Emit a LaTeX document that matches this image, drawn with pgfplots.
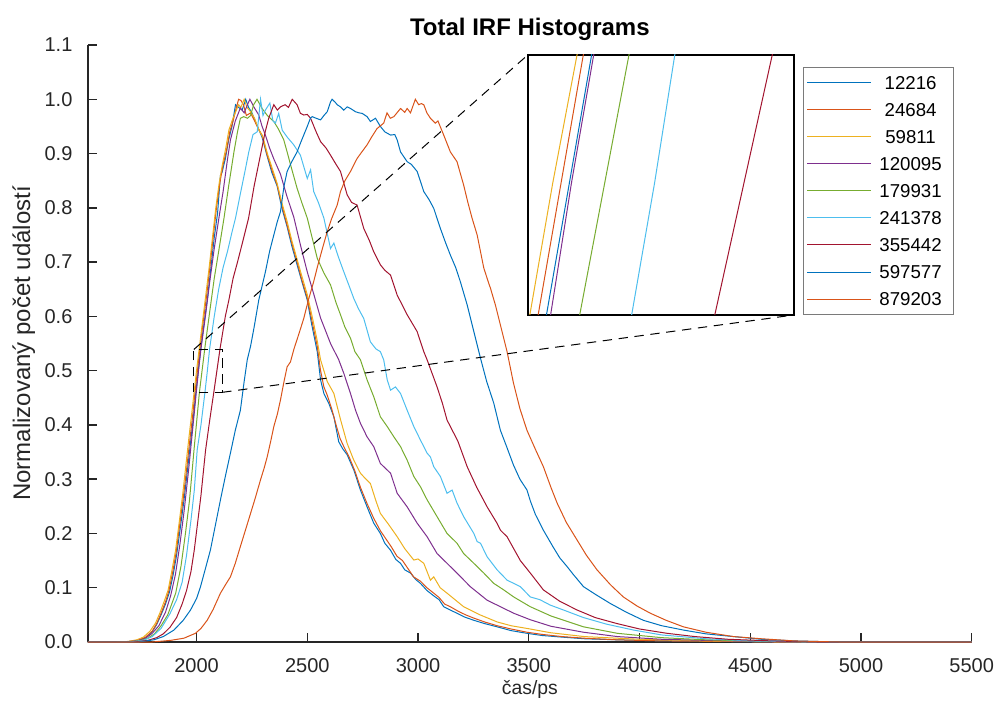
\documentclass[border=0pt]{standalone}
\usepackage{pgfplots}
\usepackage{pgfplotstable}
\pgfplotsset{compat=1.18}
\usepackage{fontspec}
\setmainfont{Liberation Sans}
\definecolor{c1}{HTML}{0072BD}
\definecolor{c2}{HTML}{D95319}
\definecolor{c3}{HTML}{EDB120}
\definecolor{c4}{HTML}{7E2F8E}
\definecolor{c5}{HTML}{77AC30}
\definecolor{c6}{HTML}{4DBEEE}
\definecolor{c7}{HTML}{A2142F}
\definecolor{axgray}{HTML}{262626}
\definecolor{leggray}{HTML}{7A7A7A}

\pgfplotstableread[row sep=\\]{x y\\1510 0\\1650 0\\1700 0.001\\1740 0.003\\1770 0.008\\1800 0.019\\1820 0.032\\1840 0.05\\1860 0.07\\1878 0.092\\1895 0.125\\1910 0.16\\1925 0.205\\1943 0.26\\1960 0.32\\1975 0.375\\1985 0.41\\1997 0.46\\2008 0.50\\2019 0.54\\2035 0.59\\2050 0.635\\2065 0.69\\2080 0.745\\2095 0.79\\2108 0.86\\2115 0.865\\2130 0.89\\2145 0.925\\2160 0.95\\2176 0.99\\2190 0.985\\2206 0.98\\2222 1.0\\2235 0.985\\2250 0.975\\2270 0.955\\2296 0.93\\2319 0.895\\2340 0.865\\2364 0.84\\2385 0.80\\2409 0.765\\2430 0.73\\2454 0.695\\2475 0.665\\2500 0.63\\2520 0.585\\2545 0.535\\2560 0.483\\2575 0.458\\2597 0.44\\2620 0.415\\2642 0.369\\2660 0.356\\2680 0.345\\2710 0.317\\2740 0.28\\2770 0.249\\2800 0.219\\2830 0.2\\2850 0.182\\2876 0.169\\2900 0.152\\2921 0.145\\2940 0.133\\2966 0.127\\2990 0.115\\3011 0.108\\3040 0.095\\3071 0.085\\3095 0.078\\3116 0.065\\3140 0.06\\3176 0.053\\3210 0.046\\3252 0.04\\3300 0.034\\3357 0.028\\3420 0.021\\3492 0.016\\3560 0.012\\3650 0.009\\3750 0.006\\3900 0.004\\4100 0.002\\4400 0.001\\4600 0\\5500 0\\}\sA

\pgfplotstableread[row sep=\\]{x y\\1510 0\\1650 0\\1700 0.001\\1740 0.004\\1770 0.009\\1800 0.02\\1820 0.034\\1840 0.053\\1860 0.074\\1875 0.094\\1892 0.128\\1908 0.165\\1922 0.21\\1940 0.265\\1957 0.325\\1972 0.38\\1982 0.415\\1993 0.46\\2004 0.50\\2015 0.54\\2030 0.59\\2046 0.64\\2060 0.69\\2075 0.745\\2090 0.80\\2105 0.845\\2120 0.88\\2135 0.905\\2150 0.94\\2165 0.96\\2180 0.985\\2190 1.0\\2200 0.998\\2212 0.99\\2225 0.97\\2244 0.975\\2262 0.96\\2280 0.945\\2296 0.934\\2319 0.897\\2340 0.87\\2364 0.842\\2385 0.805\\2409 0.768\\2430 0.735\\2454 0.70\\2475 0.668\\2500 0.634\\2522 0.59\\2545 0.545\\2560 0.50\\2575 0.47\\2590 0.455\\2610 0.43\\2630 0.40\\2648 0.375\\2665 0.36\\2690 0.34\\2715 0.315\\2740 0.285\\2770 0.255\\2800 0.228\\2830 0.205\\2855 0.19\\2880 0.175\\2905 0.158\\2930 0.15\\2955 0.135\\2980 0.12\\3011 0.112\\3040 0.1\\3071 0.09\\3095 0.082\\3120 0.07\\3150 0.064\\3180 0.057\\3215 0.05\\3252 0.044\\3300 0.037\\3357 0.03\\3420 0.024\\3492 0.018\\3560 0.014\\3650 0.01\\3750 0.007\\3900 0.004\\4100 0.002\\4400 0.001\\4600 0\\5500 0\\}\sB

\pgfplotstableread[row sep=\\]{x y\\1510 0\\1640 0\\1690 0.001\\1730 0.004\\1760 0.009\\1790 0.02\\1815 0.035\\1835 0.054\\1855 0.076\\1872 0.096\\1888 0.13\\1905 0.168\\1920 0.215\\1937 0.27\\1953 0.33\\1968 0.385\\1978 0.42\\1989 0.46\\2000 0.50\\2012 0.54\\2027 0.59\\2042 0.64\\2057 0.69\\2072 0.745\\2087 0.80\\2102 0.845\\2117 0.88\\2132 0.91\\2146 0.943\\2160 0.96\\2175 0.975\\2190 0.99\\2200 0.985\\2215 1.0\\2228 0.985\\2244 0.977\\2262 0.965\\2280 0.945\\2300 0.93\\2320 0.9\\2340 0.875\\2364 0.845\\2385 0.81\\2409 0.775\\2430 0.74\\2454 0.705\\2475 0.675\\2500 0.64\\2522 0.60\\2545 0.555\\2560 0.52\\2590 0.48\\2620 0.458\\2650 0.41\\2680 0.366\\2710 0.335\\2740 0.311\\2765 0.30\\2785 0.292\\2810 0.26\\2830 0.237\\2870 0.215\\2906 0.194\\2940 0.172\\2981 0.151\\3000 0.153\\3026 0.145\\3056 0.114\\3071 0.12\\3100 0.10\\3131 0.09\\3170 0.077\\3206 0.065\\3280 0.05\\3357 0.037\\3420 0.03\\3492 0.025\\3600 0.017\\3750 0.01\\4000 0.005\\4300 0.002\\4700 0\\5500 0\\}\sC

\pgfplotstableread[row sep=\\]{x y\\1510 0\\1680 0\\1740 0.003\\1770 0.007\\1800 0.016\\1830 0.03\\1860 0.055\\1883 0.085\\1905 0.125\\1925 0.18\\1945 0.245\\1965 0.32\\1982 0.39\\1999 0.46\\2009 0.50\\2020 0.54\\2040 0.60\\2060 0.665\\2080 0.725\\2101 0.781\\2120 0.83\\2140 0.89\\2153 0.925\\2175 0.96\\2198 0.984\\2215 0.975\\2230 0.99\\2241 1.0\\2260 0.985\\2281 0.971\\2296 0.95\\2311 0.934\\2330 0.91\\2349 0.89\\2379 0.862\\2409 0.82\\2439 0.783\\2470 0.73\\2500 0.682\\2530 0.64\\2560 0.597\\2605 0.55\\2642 0.52\\2665 0.495\\2695 0.458\\2718 0.427\\2740 0.403\\2770 0.378\\2800 0.36\\2830 0.329\\2876 0.311\\2906 0.274\\2951 0.249\\2996 0.219\\3041 0.194\\3086 0.163\\3131 0.145\\3176 0.127\\3236 0.102\\3312 0.077\\3372 0.065\\3432 0.053\\3507 0.041\\3600 0.029\\3747 0.018\\3900 0.01\\4100 0.005\\4400 0.002\\4700 0\\5500 0\\}\sD

\pgfplotstableread[row sep=\\]{x y\\1510 0\\1690 0\\1750 0.003\\1780 0.007\\1810 0.015\\1840 0.03\\1870 0.05\\1906 0.09\\1930 0.14\\1950 0.2\\1968 0.26\\1990 0.36\\2013 0.46\\2025 0.50\\2037 0.54\\2060 0.61\\2080 0.67\\2100 0.72\\2124 0.781\\2145 0.84\\2169 0.903\\2185 0.94\\2198 0.965\\2213 0.968\\2230 0.965\\2244 0.97\\2258 0.99\\2273 1.0\\2296 0.983\\2320 0.97\\2349 0.959\\2370 0.945\\2394 0.925\\2409 0.903\\2424 0.88\\2454 0.836\\2475 0.81\\2500 0.781\\2525 0.74\\2545 0.707\\2575 0.68\\2605 0.658\\2630 0.625\\2650 0.603\\2670 0.58\\2695 0.56\\2715 0.535\\2740 0.52\\2770 0.483\\2800 0.452\\2830 0.415\\2861 0.397\\2891 0.378\\2921 0.36\\2951 0.335\\2981 0.305\\3011 0.286\\3041 0.262\\3086 0.231\\3131 0.2\\3176 0.182\\3206 0.163\\3252 0.145\\3297 0.127\\3342 0.108\\3387 0.096\\3432 0.083\\3507 0.065\\3600 0.048\\3747 0.028\\3900 0.016\\4100 0.008\\4300 0.004\\4600 0.001\\4800 0\\5500 0\\}\sE

\pgfplotstableread[row sep=\\]{x y\\1510 0\\1700 0\\1760 0.003\\1800 0.01\\1840 0.025\\1880 0.052\\1910 0.078\\1935 0.11\\1955 0.16\\1975 0.225\\1990 0.28\\2003 0.354\\2020 0.40\\2038 0.46\\2049 0.50\\2059 0.54\\2080 0.60\\2100 0.65\\2120 0.69\\2140 0.72\\2160 0.755\\2176 0.781\\2200 0.83\\2220 0.87\\2236 0.903\\2255 0.935\\2274 0.94\\2289 1.0\\2300 0.97\\2311 0.98\\2331 0.993\\2345 0.96\\2356 0.956\\2371 0.974\\2387 0.943\\2410 0.93\\2439 0.916\\2469 0.897\\2500 0.854\\2515 0.87\\2529 0.83\\2550 0.81\\2575 0.781\\2605 0.725\\2620 0.735\\2640 0.71\\2665 0.682\\2690 0.655\\2710 0.633\\2730 0.615\\2755 0.596\\2785 0.553\\2810 0.54\\2830 0.535\\2845 0.52\\2861 0.483\\2876 0.464\\2898 0.47\\2921 0.458\\2951 0.427\\2981 0.397\\3011 0.372\\3041 0.348\\3056 0.341\\3071 0.323\\3101 0.305\\3131 0.274\\3154 0.28\\3176 0.256\\3206 0.231\\3252 0.2\\3267 0.185\\3282 0.182\\3312 0.157\\3357 0.133\\3402 0.114\\3462 0.102\\3507 0.083\\3550 0.078\\3597 0.068\\3650 0.06\\3747 0.045\\3850 0.033\\3973 0.022\\4100 0.013\\4300 0.006\\4500 0.002\\4800 0\\5500 0\\}\sF

\pgfplotstableread[row sep=\\]{x y\\1510 0\\1720 0\\1780 0.003\\1820 0.008\\1850 0.015\\1880 0.027\\1910 0.045\\1935 0.07\\1955 0.095\\1975 0.13\\1990 0.17\\2005 0.22\\2020 0.27\\2041 0.354\\2060 0.41\\2078 0.46\\2092 0.50\\2106 0.54\\2130 0.60\\2146 0.63\\2165 0.67\\2185 0.70\\2210 0.74\\2235 0.781\\2260 0.84\\2280 0.88\\2295 0.91\\2310 0.94\\2326 0.965\\2349 0.99\\2365 0.98\\2379 0.986\\2400 0.99\\2415 0.985\\2432 1.0\\2454 0.99\\2469 0.974\\2484 0.971\\2500 0.972\\2515 0.965\\2540 0.94\\2560 0.922\\2585 0.91\\2605 0.897\\2630 0.88\\2650 0.867\\2680 0.824\\2700 0.81\\2725 0.805\\2755 0.762\\2780 0.74\\2800 0.719\\2830 0.695\\2850 0.685\\2876 0.676\\2906 0.639\\2930 0.62\\2951 0.603\\2996 0.572\\3026 0.535\\3041 0.52\\3086 0.47\\3110 0.44\\3131 0.409\\3180 0.37\\3222 0.323\\3265 0.285\\3312 0.249\\3355 0.22\\3372 0.206\\3402 0.194\\3462 0.15\\3507 0.127\\3566 0.096\\3640 0.075\\3718 0.059\\3800 0.045\\3898 0.034\\4000 0.024\\4124 0.016\\4250 0.01\\4400 0.005\\4600 0.002\\4800 0\\5500 0\\}\sG

\pgfplotstableread[row sep=\\]{x y\\1510 0\\1740 0\\1807 0.004\\1850 0.01\\1898 0.022\\1940 0.04\\1973 0.059\\2000 0.08\\2018 0.102\\2040 0.135\\2063 0.17\\2085 0.215\\2108 0.262\\2130 0.305\\2153 0.348\\2175 0.39\\2198 0.427\\2215 0.48\\2229 0.52\\2244 0.545\\2260 0.58\\2281 0.63\\2311 0.682\\2330 0.72\\2349 0.75\\2365 0.775\\2379 0.793\\2395 0.84\\2409 0.867\\2430 0.885\\2454 0.903\\2470 0.92\\2484 0.934\\2500 0.95\\2514 0.965\\2522 0.968\\2540 0.965\\2560 0.962\\2575 0.97\\2590 0.977\\2605 0.995\\2612 1.0\\2625 0.995\\2635 0.99\\2650 0.986\\2665 0.98\\2680 0.986\\2695 0.983\\2718 0.977\\2733 0.975\\2748 0.974\\2770 0.968\\2785 0.959\\2808 0.965\\2830 0.95\\2850 0.94\\2876 0.934\\2895 0.935\\2906 0.925\\2921 0.903\\2951 0.885\\2970 0.88\\2996 0.867\\3010 0.85\\3026 0.83\\3050 0.815\\3071 0.799\\3101 0.762\\3125 0.735\\3146 0.713\\3170 0.69\\3191 0.664\\3222 0.621\\3252 0.572\\3282 0.523\\3310 0.48\\3342 0.44\\3372 0.39\\3400 0.36\\3431 0.326\\3460 0.30\\3492 0.28\\3507 0.26\\3530 0.235\\3566 0.206\\3610 0.175\\3640 0.155\\3673 0.139\\3700 0.125\\3747 0.102\\3800 0.088\\3868 0.071\\3940 0.055\\4017 0.04\\4100 0.03\\4198 0.022\\4300 0.015\\4424 0.01\\4550 0.005\\4700 0.002\\4900 0\\5500 0\\}\sH

\pgfplotstableread[row sep=\\]{x y\\1510 0\\1800 0\\1883 0.003\\1943 0.007\\1995 0.016\\2020 0.025\\2048 0.04\\2075 0.06\\2108 0.09\\2130 0.105\\2153 0.12\\2175 0.145\\2198 0.176\\2220 0.205\\2244 0.237\\2265 0.265\\2289 0.299\\2305 0.32\\2319 0.341\\2335 0.37\\2349 0.397\\2365 0.42\\2379 0.446\\2395 0.48\\2409 0.507\\2424 0.516\\2440 0.54\\2460 0.565\\2484 0.596\\2505 0.63\\2529 0.664\\2545 0.69\\2565 0.72\\2590 0.756\\2610 0.78\\2635 0.805\\2650 0.83\\2670 0.85\\2695 0.867\\2725 0.891\\2750 0.905\\2770 0.916\\2790 0.93\\2815 0.946\\2845 0.956\\2860 0.975\\2875 0.965\\2891 0.968\\2921 0.983\\2940 0.976\\2951 0.983\\2966 0.975\\2988 1.0\\3003 0.99\\3015 0.992\\3026 0.99\\3040 0.975\\3056 0.965\\3078 0.956\\3090 0.96\\3116 0.934\\3146 0.903\\3176 0.885\\3206 0.842\\3225 0.81\\3244 0.781\\3267 0.75\\3297 0.689\\3320 0.66\\3327 0.652\\3350 0.62\\3372 0.584\\3402 0.535\\3431 0.477\\3460 0.43\\3492 0.39\\3530 0.355\\3566 0.323\\3600 0.285\\3628 0.256\\3670 0.22\\3718 0.188\\3760 0.16\\3808 0.133\\3870 0.105\\3927 0.083\\3990 0.066\\4049 0.053\\4120 0.04\\4198 0.028\\4300 0.018\\4424 0.01\\4550 0.006\\4700 0.002\\4900 0\\5500 0\\}\sI

\begin{document}
\begin{tikzpicture}
\path[use as bounding box] (-66pt,-53.25pt) rectangle (682.5pt,481.5pt);
\begin{axis}[
  name=main, at={(0pt,0pt)}, anchor=south west,
  width=662.8pt, height=447.75pt, scale only axis,
  xmin=1510, xmax=5500, ymin=0, ymax=1.1,
  clip=false,
  axis x line*=bottom, axis y line*=left,
  axis line style={axgray, line width=1.1pt},
  every tick/.style={axgray, line width=1.1pt},
  tick align=inside, major tick length=7pt,
  xtick={2000,2500,3000,3500,4000,4500,5000,5500},
  ytick={0,0.1,0.2,0.3,0.4,0.5,0.6,0.7,0.8,0.9,1.0,1.1},
  /pgf/number format/assume math mode=true,
  ticklabel style={font=\fontsize{15pt}{17pt}\selectfont, text=axgray},
  xticklabel style={/pgf/number format/1000 sep={}, inner sep=0pt, anchor=north, yshift=-12.5pt},
  yticklabel style={/pgf/number format/.cd, fixed, fixed zerofill, precision=1, /tikz/.cd, inner sep=0pt, anchor=east, xshift=-11.5pt},
  every axis title shift=0pt,
  title={Total IRF Histograms},
  title style={at={(axis description cs:0.5,1.027)}, anchor=center, font=\bfseries\fontsize{18pt}{20pt}\selectfont},
  xlabel={čas/ps},
  xlabel style={at={(axis description cs:0.5,-0.079)}, anchor=center, font=\fontsize{14.5pt}{17pt}\selectfont, text=axgray},
  ylabel={Normalizovaný počet událostí},
  ylabel style={at={(axis description cs:-0.0727,0.5)}, anchor=center, font=\fontsize{18pt}{20pt}\selectfont, text=axgray},
  legend style={at={(axis description cs:0.8085,0.9637)}, anchor=north west, draw=leggray, line width=0.6pt, fill=white,
    font=\fontsize{14pt}{16pt}\selectfont, inner xsep=3pt, inner ysep=5.6pt, row sep=8.3pt,
    nodes={inner sep=1pt, text height=10pt, text depth=0pt}},
  legend cell align=left,
  legend image code/.code={\draw[#1, line width=0.75pt] (0pt,0pt) -- (48pt,0pt);},
  every axis plot/.append style={line width=0.75pt},
]
\addplot[c1] table {\sA}; \addlegendentry{\makebox[56pt][c]{12216}}
\addplot[c2] table {\sB}; \addlegendentry{\makebox[56pt][c]{24684}}
\addplot[c3] table {\sC}; \addlegendentry{\makebox[56pt][c]{59811}}
\addplot[c4] table {\sD}; \addlegendentry{\makebox[56pt][c]{120095}}
\addplot[c5] table {\sE}; \addlegendentry{\makebox[56pt][c]{179931}}
\addplot[c6] table {\sF}; \addlegendentry{\makebox[56pt][c]{241378}}
\addplot[c7] table {\sG}; \addlegendentry{\makebox[56pt][c]{355442}}
\addplot[c1] table {\sH}; \addlegendentry{\makebox[56pt][c]{597577}}
\addplot[c2] table {\sI}; \addlegendentry{\makebox[56pt][c]{879203}}
\draw[black, line width=0.75pt, dash pattern=on 7pt off 5pt] (axis cs:1988,0.46) rectangle (axis cs:2116,0.539);
\coordinate (zTL) at (axis cs:1988,0.539);
\coordinate (zBR) at (axis cs:2116,0.46);
\end{axis}
\begin{axis}[
  name=ins, at={(329.8pt,245.25pt)}, anchor=south west,
  width=199.5pt, height=195pt, scale only axis,
  xmin=1988, xmax=2116, ymin=0.46, ymax=0.539,
  xtick=\empty, ytick=\empty,
  axis line style={black, line width=1.5pt},
  axis background/.style={fill=white},
  every axis plot/.append style={line width=0.75pt},
]
\addplot[c1] table {\sA};
\addplot[c2] table {\sB};
\addplot[c3] table {\sC};
\addplot[c4] table {\sD};
\addplot[c5] table {\sE};
\addplot[c6] table {\sF};
\addplot[c7] table {\sG};
\addplot[c1] table {\sH};
\addplot[c2] table {\sI};
\end{axis}
\draw[black, line width=0.75pt, dash pattern=on 7pt off 5pt] (zTL) -- (ins.north west);
\draw[black, line width=0.75pt, dash pattern=on 7pt off 5pt] (zBR) -- (ins.south east);
\end{tikzpicture}
\end{document}
